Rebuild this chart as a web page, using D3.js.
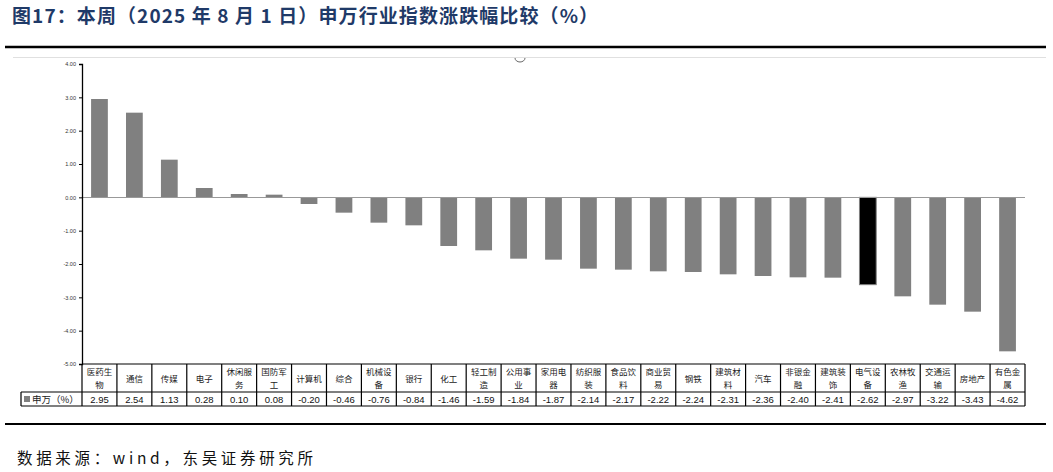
<!DOCTYPE html>
<html><head><meta charset="utf-8">
<script src="https://cdn.jsdelivr.net/npm/d3@7"></script>
<style>body{margin:0;background:#fff}svg{display:block}</style>
</head><body><svg id="c" width="1053" height="472"></svg>
<script>
const categories = ["医药生物","通信","传媒","电子","休闲服务","国防军工","计算机","综合","机械设备","银行","化工","轻工制造","公用事业","家用电器","纺织服装","食品饮料","商业贸易","钢铁","建筑材料","汽车","非银金融","建筑装饰","电气设备","农林牧渔","交通运输","房地产","有色金属"];
const values = [2.95,2.54,1.13,0.28,0.10,0.08,-0.20,-0.46,-0.76,-0.84,-1.46,-1.59,-1.84,-1.87,-2.14,-2.17,-2.22,-2.24,-2.31,-2.36,-2.40,-2.41,-2.62,-2.97,-3.22,-3.43,-4.62];
const highlight = ["电气设备"];
const yTicks = [4,3,2,1,0,-1,-2,-3,-4,-5];
const seriesName = "申万（%）";

const svg = d3.select("#c");
const font = "'Noto Sans CJK SC', sans-serif";
const fmt = v => d3.format(".2f")(v).replace("\u2212","-");
// title
svg.append("text").attr("x",12).attr("y",23).attr("fill","#1f3a68")
  .attr("font-family",font).attr("font-weight","bold").attr("font-size",19)
  .attr("letter-spacing",1.1)
  .text("图17：本周（2025 年 8 月 1 日）申万行业指数涨跌幅比较（%）");
svg.append("line").attr("x1",5).attr("x2",1046).attr("y1",47).attr("y2",47).attr("stroke","#000").attr("stroke-width",2.5);
svg.append("line").attr("x1",13).attr("x2",1046).attr("y1",57.5).attr("y2",57.5).attr("stroke","#e0e0e0").attr("stroke-width",1);
svg.append("path").attr("d","M515,58 A5,4 0 0 0 525,58").attr("fill","none").attr("stroke","#666").attr("stroke-width",1);

const left = 82, right = 1025;
const x = d3.scaleBand().domain(categories).range([left,right]).paddingInner(0.52).paddingOuter(0.26);
const y = d3.scaleLinear().domain([-5,4]).range([364,64]);

// bars
svg.append("g").selectAll("rect").data(categories).join("rect")
  .attr("x",d=>x(d)).attr("width",x.bandwidth())
  .attr("y",(d,i)=>y(Math.max(0,values[i])))
  .attr("height",(d,i)=>Math.abs(y(values[i])-y(0)))
  .attr("fill",d=>highlight.includes(d)?"#000":"#808080")
  .attr("stroke",d=>highlight.includes(d)?"#808080":"none").attr("stroke-width",1);

// zero line
svg.append("line").attr("x1",left).attr("x2",right).attr("y1",Math.round(y(0))+0.5).attr("y2",Math.round(y(0))+0.5).attr("stroke","#999").attr("stroke-width",1);

// y axis
const ya = svg.append("g").attr("transform",`translate(${left},0)`)
  .call(d3.axisLeft(y).tickValues(yTicks).tickFormat(fmt).tickSize(3));
ya.select(".domain").attr("stroke","#000").attr("stroke-width",1.3);
ya.selectAll("line").attr("stroke","#000");
ya.selectAll("text").attr("font-family","'Liberation Sans', sans-serif").attr("font-size",5.5).attr("fill","#333");

// table
const colL = 21, rowTop = 364, rowMid = 392, rowBot = 406;
const step = x.step();
const cellX = i => left + i*step;
const tg = svg.append("g");
tg.append("line").attr("x1",left).attr("x2",right).attr("y1",rowTop).attr("y2",rowTop).attr("stroke","#000").attr("stroke-width",1.2);
tg.append("line").attr("x1",colL).attr("x2",right).attr("y1",rowMid).attr("y2",rowMid).attr("stroke","#000").attr("stroke-width",1.2);
tg.append("line").attr("x1",colL).attr("x2",right).attr("y1",rowBot).attr("y2",rowBot).attr("stroke","#000").attr("stroke-width",1.2);
tg.append("line").attr("x1",colL).attr("x2",colL).attr("y1",rowMid).attr("y2",rowBot).attr("stroke","#000").attr("stroke-width",1.2);
tg.append("line").attr("x1",left).attr("x2",left).attr("y1",rowTop).attr("y2",rowBot).attr("stroke","#000").attr("stroke-width",1.2);
tg.selectAll("line.v").data(categories).join("line").attr("class","v")
  .attr("x1",(d,i)=>cellX(i+1)).attr("x2",(d,i)=>cellX(i+1))
  .attr("y1",rowTop).attr("y2",rowBot).attr("stroke","#000").attr("stroke-width",1.2);
categories.forEach((c,i)=>{
  const cx = cellX(i)+step/2;
  const t = tg.append("text").attr("text-anchor","middle").attr("font-family",font).attr("font-size",8.5).attr("fill","#222");
  if (c.length > 3) {
    t.append("tspan").attr("x",cx).attr("y",rowTop+11).text(c.slice(0,3));
    t.append("tspan").attr("x",cx).attr("y",rowTop+24).text(c.slice(3));
  } else {
    t.append("tspan").attr("x",cx).attr("y",rowTop+17.5).text(c);
  }
  tg.append("text").attr("x",cx).attr("y",rowMid+10.5).attr("text-anchor","middle")
    .attr("font-family","'Liberation Sans', sans-serif").attr("font-size",9.5).attr("fill","#111")
    .text(fmt(values[i]));
});
tg.append("rect").attr("x",colL+3).attr("y",rowMid+4).attr("width",6).attr("height",6).attr("fill","#808080");
tg.append("text").attr("x",colL+11).attr("y",rowMid+10.5).attr("font-family",font).attr("font-size",9.5).attr("fill","#222").text(seriesName);

// footer
svg.append("line").attr("x1",5).attr("x2",1046).attr("y1",424).attr("y2",424).attr("stroke","#000").attr("stroke-width",2);
svg.append("text").attr("x",17).attr("y",464).attr("font-family",font).attr("font-size",15.5).attr("fill","#111")
  .attr("textLength",296).attr("lengthAdjust","spacing")
  .text("数据来源：wind，东吴证券研究所");
</script></body></html>
